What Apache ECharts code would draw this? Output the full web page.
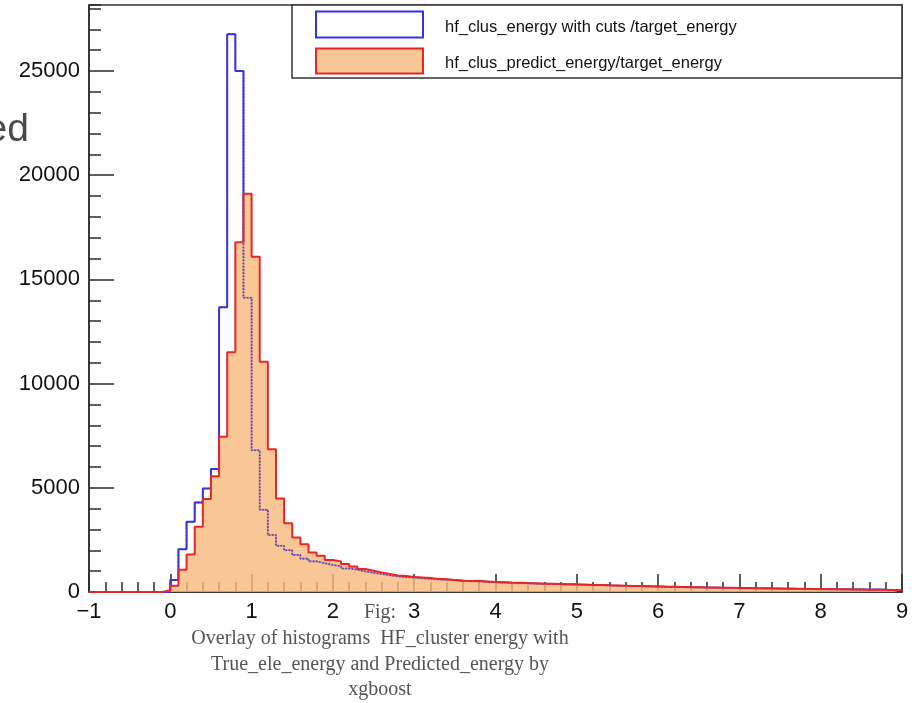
<!DOCTYPE html>
<html><head><meta charset="utf-8">
<script src="https://cdn.jsdelivr.net/npm/echarts@6/dist/echarts.min.js"></script>
<style>html,body{margin:0;padding:0;background:#fff;}#c{width:915px;height:703px;}</style>
</head><body><div id="c"></div>
<script>
// Histogram binning (bin edges): 100 bins of width 0.1 from -1 to 9
const binStart = -1;
const binWidth = 0.1;

// hf_clus_energy with cuts / target_energy (blue outline)
const cutsCounts = [
  0,0,0,0,0,0,0,0,0,0,
  576,2050,3370,4300,4970,5900,13660,26770,25000,14120,
  6800,3950,2735,2220,2000,1780,1600,1470,1375,1300,
  1240,1130,1070,990,920,860,800,750,720,690,
  660,640,600,585,560,540,520,535,480,465,
  450,430,425,420,400,390,380,370,362,350,
  340,325,330,310,300,290,280,275,262,258,
  248,242,236,225,220,210,205,200,196,188,
  195,176,172,165,160,156,150,146,142,136,
  132,128,125,118,115,110,122,104,98,92
];

// hf_clus_predict_energy / target_energy (red outline, orange fill)
const predictCounts = [
  0,0,0,0,0,0,0,0,0,80,
  300,1070,1800,3135,4460,5560,7450,11500,16780,19110,
  16090,11050,6850,4490,3300,2610,2290,1890,1740,1540,
  1470,1340,1220,1100,1020,940,870,790,770,720,
  700,670,630,610,575,545,530,515,500,480,
  465,450,445,430,420,400,395,385,375,370,
  355,340,335,320,310,300,290,285,270,265,
  255,250,245,230,225,215,210,205,200,190,
  185,180,175,170,165,160,155,150,145,140,
  135,130,128,120,118,112,110,105,100,95
];

const legendLabels = [
  'hf_clus_energy with cuts /target_energy',
  'hf_clus_predict_energy/target_energy'
];
const captionLines = [
  'Fig:',
  'Overlay of histograms  HF_cluster energy with',
  'True_ele_energy and Predicted_energy by',
  'xgboost'
];
const sideText = 'ed';

function toSteps(counts) {
  const pts = counts.map((v, i) => [+(binStart + i * binWidth).toFixed(3), v]);
  pts.push([+(binStart + counts.length * binWidth).toFixed(3), counts[counts.length - 1]]);
  return pts;
}

const BLUE = '#3232ee';
const RED = '#ec2424';
const FILL = 'rgba(248,184,124,0.80)';
const AX = '#2a2a2a';
const FONT = 'Liberation Sans, Arial, Helvetica, sans-serif';
const SERIF = 'Liberation Serif, Times New Roman, serif';

const chart = echarts.init(document.getElementById('c'), null, { renderer: 'canvas' });
const graphics = [
  { type: 'text', z: 10, style: { text: sideText, x: 29, y: 130, textAlign: 'right', textVerticalAlign: 'middle',
      fill: '#4a4a4a', font: '39px ' + FONT } },
  { type: 'rect', z: 10, shape: { x: 292, y: 5, width: 610, height: 73 },
    style: { fill: '#fff', stroke: '#333', lineWidth: 1.5 } },
  { type: 'rect', z: 11, shape: { x: 316, y: 11.5, width: 107, height: 26 },
    style: { fill: '#fff', stroke: BLUE, lineWidth: 2 } },
  { type: 'rect', z: 11, shape: { x: 316, y: 48.5, width: 107, height: 25 },
    style: { fill: FILL, stroke: RED, lineWidth: 2 } },
  { type: 'text', z: 11, style: { text: legendLabels[0], x: 445, y: 27.5, textVerticalAlign: 'middle',
      fill: '#111', font: '16.5px ' + FONT } },
  { type: 'text', z: 11, style: { text: legendLabels[1], x: 445, y: 63, textVerticalAlign: 'middle',
      fill: '#111', font: '16.5px ' + FONT } }
];
const capY = [613, 639, 665, 690];
captionLines.forEach((t, i) => {
  graphics.push({ type: 'text', z: 10, style: { text: t, x: 380, y: capY[i], textAlign: 'center',
    textVerticalAlign: 'middle', fill: '#555', font: '20px ' + SERIF } });
});

const cutsSteps = toSteps(cutsCounts);
const predSteps = toSteps(predictCounts);

const option = {
  animation: false,
  backgroundColor: '#fff',
  grid: { left: 89, right: 13, top: 5, bottom: 111, show: true, borderColor: '#333', borderWidth: 1.5,
    backgroundColor: 'transparent' },
  xAxis: {
    type: 'value', min: -1, max: 9, interval: 1,
    axisLine: { show: true, onZero: false, lineStyle: { color: AX, width: 1.5 } },
    axisTick: { show: true, inside: true, length: 18, lineStyle: { color: AX, width: 1.5 } },
    minorTick: { show: true, splitNumber: 5, length: 10, lineStyle: { color: AX, width: 1.5 } },
    splitLine: { show: false },
    axisLabel: { margin: 9, color: '#111', fontSize: 22, fontFamily: FONT,
      formatter: v => String(v).replace('-', '\u2212') }
  },
  yAxis: [
    {
      type: 'value', min: 0, max: 28170, interval: 5000, position: 'left',
      axisLine: { show: true, onZero: false, lineStyle: { color: AX, width: 1.5 } },
      axisTick: { show: true, inside: true, length: 25, lineStyle: { color: AX, width: 1.5 } },
      splitLine: { show: false },
      axisLabel: { margin: 9, color: '#111', fontSize: 22, fontFamily: FONT, showMaxLabel: false,
        formatter: v => (v % 5000 === 0 ? String(v) : '') }
    },
    {
      type: 'value', min: 0, max: 28170, interval: 1000, position: 'left',
      axisLine: { show: false, onZero: false },
      axisTick: { show: true, inside: true, length: 12, lineStyle: { color: AX, width: 1.5 } },
      splitLine: { show: false },
      axisLabel: { show: false }
    }
  ],
  series: [
    // blue outline (solid)
    { type: 'line', step: 'end', data: cutsSteps, symbol: 'none', yAxisIndex: 0,
      lineStyle: { color: BLUE, width: 2 }, z: 2, silent: true },
    // orange fill of predicted histogram
    { type: 'line', step: 'end', data: predSteps, symbol: 'none', yAxisIndex: 0,
      lineStyle: { width: 0, opacity: 0 }, areaStyle: { color: FILL, opacity: 1, origin: 'start' }, z: 3, silent: true },
    // blue outline seen through the fill (dotted)
    { type: 'line', step: 'end', data: cutsSteps, symbol: 'none', yAxisIndex: 0,
      lineStyle: { color: '#4a38c8', width: 1.6, type: [1.6, 1.6] }, z: 4, silent: true },
    // red outline
    { type: 'line', step: 'end', data: predSteps, symbol: 'none', yAxisIndex: 0,
      lineStyle: { color: RED, width: 2 }, z: 5, silent: true }
  ],
  graphic: graphics
};
chart.setOption(option);
</script></body></html>
